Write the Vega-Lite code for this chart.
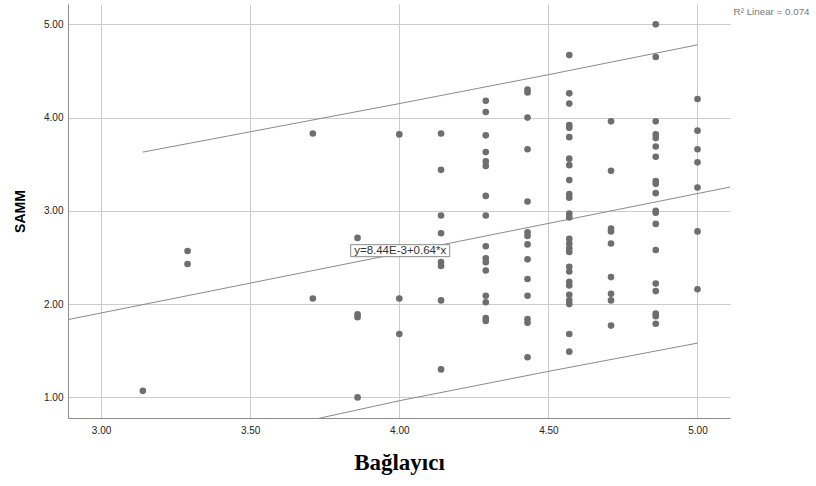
{
  "$schema": "https://vega.github.io/schema/vega-lite/v6.json",
  "width": 662,
  "height": 414,
  "autosize": {"type": "none"},
  "padding": {"left": 68, "top": 4, "right": 86, "bottom": 68},
  "background": "white",
  "config": {
    "view": {"stroke": null},
    "font": "Liberation Sans",
    "axis": {
      "labelFont": "Liberation Sans",
      "labelFontSize": 10,
      "labelColor": "#222",
      "ticks": false,
      "domainColor": "#8c8c8c",
      "gridColor": "#cccccc",
      "gridWidth": 1
    }
  },
  "datasets": {
    "pts": [
      {"x": 3.14, "y": 1.07},
      {"x": 3.29, "y": 2.57}, {"x": 3.29, "y": 2.43},
      {"x": 3.71, "y": 3.83}, {"x": 3.71, "y": 2.06},
      {"x": 3.86, "y": 2.71}, {"x": 3.86, "y": 1.89}, {"x": 3.86, "y": 1.86}, {"x": 3.86, "y": 1.00},
      {"x": 4.00, "y": 3.82}, {"x": 4.00, "y": 2.06}, {"x": 4.00, "y": 1.68},
      {"x": 4.14, "y": 3.83}, {"x": 4.14, "y": 3.44}, {"x": 4.14, "y": 2.95}, {"x": 4.14, "y": 2.76}, {"x": 4.14, "y": 2.45}, {"x": 4.14, "y": 2.41}, {"x": 4.14, "y": 2.04}, {"x": 4.14, "y": 1.30},
      {"x": 4.29, "y": 4.18}, {"x": 4.29, "y": 4.06}, {"x": 4.29, "y": 3.81}, {"x": 4.29, "y": 3.63}, {"x": 4.29, "y": 3.53}, {"x": 4.29, "y": 3.48}, {"x": 4.29, "y": 3.16}, {"x": 4.29, "y": 2.95}, {"x": 4.29, "y": 2.62}, {"x": 4.29, "y": 2.49}, {"x": 4.29, "y": 2.45}, {"x": 4.29, "y": 2.36}, {"x": 4.29, "y": 2.09}, {"x": 4.29, "y": 2.02}, {"x": 4.29, "y": 1.85}, {"x": 4.29, "y": 1.82},
      {"x": 4.43, "y": 4.30}, {"x": 4.43, "y": 4.27}, {"x": 4.43, "y": 4.00}, {"x": 4.43, "y": 3.66}, {"x": 4.43, "y": 3.10}, {"x": 4.43, "y": 2.77}, {"x": 4.43, "y": 2.73}, {"x": 4.43, "y": 2.64}, {"x": 4.43, "y": 2.48}, {"x": 4.43, "y": 2.27}, {"x": 4.43, "y": 2.09}, {"x": 4.43, "y": 1.84}, {"x": 4.43, "y": 1.80}, {"x": 4.43, "y": 1.43},
      {"x": 4.57, "y": 4.67}, {"x": 4.57, "y": 4.26}, {"x": 4.57, "y": 4.15}, {"x": 4.57, "y": 3.92}, {"x": 4.57, "y": 3.89}, {"x": 4.57, "y": 3.79}, {"x": 4.57, "y": 3.56}, {"x": 4.57, "y": 3.49}, {"x": 4.57, "y": 3.33}, {"x": 4.57, "y": 3.18}, {"x": 4.57, "y": 3.14}, {"x": 4.57, "y": 2.97}, {"x": 4.57, "y": 2.93}, {"x": 4.57, "y": 2.70}, {"x": 4.57, "y": 2.65}, {"x": 4.57, "y": 2.60}, {"x": 4.57, "y": 2.56}, {"x": 4.57, "y": 2.40}, {"x": 4.57, "y": 2.35}, {"x": 4.57, "y": 2.24}, {"x": 4.57, "y": 2.20}, {"x": 4.57, "y": 2.10}, {"x": 4.57, "y": 2.04}, {"x": 4.57, "y": 2.00}, {"x": 4.57, "y": 1.68}, {"x": 4.57, "y": 1.49},
      {"x": 4.71, "y": 3.96}, {"x": 4.71, "y": 3.43}, {"x": 4.71, "y": 2.81}, {"x": 4.71, "y": 2.78}, {"x": 4.71, "y": 2.65}, {"x": 4.71, "y": 2.29}, {"x": 4.71, "y": 2.11}, {"x": 4.71, "y": 2.04}, {"x": 4.71, "y": 1.77},
      {"x": 4.86, "y": 5.00}, {"x": 4.86, "y": 4.65}, {"x": 4.86, "y": 3.96}, {"x": 4.86, "y": 3.82}, {"x": 4.86, "y": 3.78}, {"x": 4.86, "y": 3.69}, {"x": 4.86, "y": 3.58}, {"x": 4.86, "y": 3.32}, {"x": 4.86, "y": 3.29}, {"x": 4.86, "y": 3.19}, {"x": 4.86, "y": 3.00}, {"x": 4.86, "y": 2.98}, {"x": 4.86, "y": 2.86}, {"x": 4.86, "y": 2.58}, {"x": 4.86, "y": 2.22}, {"x": 4.86, "y": 2.14}, {"x": 4.86, "y": 1.90}, {"x": 4.86, "y": 1.87}, {"x": 4.86, "y": 1.79},
      {"x": 5.00, "y": 4.20}, {"x": 5.00, "y": 3.86}, {"x": 5.00, "y": 3.66}, {"x": 5.00, "y": 3.52}, {"x": 5.00, "y": 3.25}, {"x": 5.00, "y": 2.78}, {"x": 5.00, "y": 2.16}
    ],
    "lines": [
      {"band": "fit", "x": 2.889, "y": 1.834},
      {"band": "fit", "x": 5.109, "y": 3.255},
      {"band": "upper", "x": 3.14, "y": 3.63},
      {"band": "upper", "x": 4.0, "y": 4.15},
      {"band": "upper", "x": 4.5, "y": 4.46},
      {"band": "upper", "x": 5.0, "y": 4.78},
      {"band": "lower", "x": 3.14, "y": 0.35},
      {"band": "lower", "x": 3.735, "y": 0.779},
      {"band": "lower", "x": 4.0, "y": 0.964},
      {"band": "lower", "x": 4.5, "y": 1.279},
      {"band": "lower", "x": 5.0, "y": 1.582}
    ],
    "eq": [{"x": 4.003, "y": 2.573, "label": "y=8.44E-3+0.64*x"}],
    "r2": [{"x": 5.121, "y": 5.132, "label": "R² Linear = 0.074"}]
  },
  "layer": [
    {
      "data": {"name": "lines"},
      "mark": {"type": "line", "clip": true, "color": "#8a8a8a", "strokeWidth": 1},
      "encoding": {
        "x": {
          "field": "x", "type": "quantitative",
          "scale": {"domain": [2.889, 5.109], "nice": false, "zero": false},
          "axis": {
            "values": [3, 3.5, 4, 4.5, 5], "format": ".2f",
            "title": "Bağlayıcı",
            "titleFont": "Liberation Serif", "titleFontSize": 23, "titleFontWeight": "bold",
            "titleColor": "#000", "titlePadding": 16, "labelPadding": 7
          }
        },
        "y": {
          "field": "y", "type": "quantitative",
          "scale": {"domain": [0.779, 5.218], "nice": false, "zero": false},
          "axis": {
            "values": [1, 2, 3, 4, 5], "format": ".2f",
            "title": "SAMM",
            "titleFont": "Liberation Sans", "titleFontSize": 14, "titleFontWeight": "bold",
            "titleColor": "#000", "titlePadding": 16, "labelPadding": 5
          }
        },
        "detail": {"field": "band"}
      }
    },
    {
      "data": {"name": "pts"},
      "mark": {"type": "circle", "size": 44, "color": "#6e6e6e", "opacity": 1},
      "encoding": {
        "x": {"field": "x", "type": "quantitative"},
        "y": {"field": "y", "type": "quantitative"}
      }
    },
    {
      "data": {"name": "eq"},
      "mark": {"type": "rect", "width": 99, "height": 12, "fill": "white", "stroke": "#8a8a8a", "strokeWidth": 1},
      "encoding": {
        "x": {"field": "x", "type": "quantitative"},
        "y": {"field": "y", "type": "quantitative"}
      }
    },
    {
      "data": {"name": "eq"},
      "mark": {"type": "text", "font": "Liberation Sans", "fontSize": 11.5, "color": "#333", "align": "center", "baseline": "middle"},
      "encoding": {
        "x": {"field": "x", "type": "quantitative"},
        "y": {"field": "y", "type": "quantitative"},
        "text": {"field": "label"}
      }
    },
    {
      "data": {"name": "r2"},
      "mark": {"type": "text", "font": "Liberation Sans", "fontSize": 9.8, "color": "#777", "align": "left", "baseline": "middle"},
      "encoding": {
        "x": {"field": "x", "type": "quantitative"},
        "y": {"field": "y", "type": "quantitative"},
        "text": {"field": "label"}
      }
    }
  ]
}
